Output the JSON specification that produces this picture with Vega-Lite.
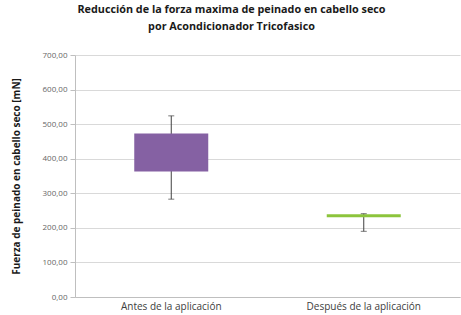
{
  "$schema": "https://vega.github.io/schema/vega-lite/v6.json",
  "autosize": {"type": "none"},
  "width": 385,
  "height": 242,
  "padding": {"left": 75, "top": 55, "right": 1, "bottom": 18},
  "background": "white",
  "title": {
    "text": ["Reducción de la forza maxima de peinado en cabello seco", "por Acondicionador Tricofasico"],
    "font": "Open Sans",
    "fontSize": 10.8,
    "fontWeight": "bold",
    "color": "#1a1a1a",
    "anchor": "middle",
    "dx": -36,
    "offset": 19,
    "lineHeight": 17
  },
  "config": {
    "locale": {"number": {"decimal": ",", "thousands": ".", "grouping": [3], "currency": ["", " €"]}},
    "view": {"stroke": null},
    "font": "Open Sans",
    "axisY": {"titleFontWeight": "bold", "titleFontSize": 10, "titleColor": "#1a1a1a", "titlePadding": 21, "labelFontSize": 8, "labelColor": "#666666", "gridColor": "#d9d9d9", "domainColor": "#bfbfbf", "tickColor": "#bfbfbf", "tickSize": 5, "labelPadding": 3, "labelOverlap": false}
  },
  "data": {
    "values": [
      {"grupo": "Antes de la aplicación", "min": 283, "q1": 363, "q3": 473, "max": 524},
      {"grupo": "Después de la aplicación", "min": 190, "q1": 231, "q3": 239, "max": 241}
    ]
  },
  "encoding": {
    "x": {
      "field": "grupo", "type": "nominal", "sort": null,
      "scale": {"paddingInner": 0, "paddingOuter": 0},
      "axis": {"title": null, "labelAngle": 0, "ticks": false, "domainColor": "#bfbfbf", "labelColor": "#404040", "labelFontSize": 10, "labelPadding": 4}
    }
  },
  "layer": [
    {
      "mark": {"type": "rule", "color": "#404040", "strokeWidth": 1},
      "encoding": {
        "y": {"field": "min", "type": "quantitative",
          "scale": {"domain": [0, 700]},
          "axis": {"title": "Fuerza de peinado en cabello seco [mN]", "format": ".2f", "values": [0,100,200,300,400,500,600,700]}},
        "y2": {"field": "max"}
      }
    },
    {
      "mark": {"type": "bar", "size": 74, "strokeWidth": 1},
      "encoding": {
        "y": {"field": "q1", "type": "quantitative",
          "axis": {"title": "Fuerza de peinado en cabello seco [mN]", "format": ".2f", "values": [0,100,200,300,400,500,600,700]}},
        "y2": {"field": "q3"},
        "color": {"field": "grupo", "type": "nominal", "scale": {"range": ["#8561a3", "#8cc43c"]}, "legend": null}
      }
    },
    {
      "mark": {"type": "tick", "color": "#404040", "size": 6, "thickness": 1},
      "encoding": {"y": {"field": "min", "type": "quantitative",
          "axis": {"title": "Fuerza de peinado en cabello seco [mN]", "format": ".2f", "values": [0,100,200,300,400,500,600,700]}}}
    },
    {
      "mark": {"type": "tick", "color": "#404040", "size": 6, "thickness": 1},
      "encoding": {"y": {"field": "max", "type": "quantitative",
          "axis": {"title": "Fuerza de peinado en cabello seco [mN]", "format": ".2f", "values": [0,100,200,300,400,500,600,700]}}}
    }
  ]
}
